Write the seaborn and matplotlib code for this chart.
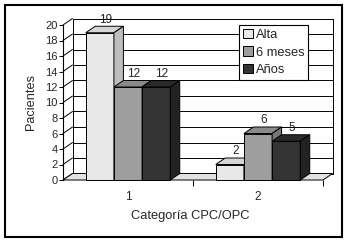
import matplotlib
matplotlib.use("Agg")
import matplotlib.pyplot as plt
import seaborn as sns
import pandas as pd
import numpy as np
from matplotlib.patches import Polygon, Rectangle

# ---- data ----
categories = ["1", "2"]
series = ["Alta", "6 meses", "Años"]
alta = [19, 2]
seis_meses = [12, 6]
anos = [12, 5]
yticks = list(range(0, 21, 2))

front_colors = {"Alta": "#e8e8e8", "6 meses": "#9e9e9e", "Años": "#333333"}
top_colors = {"Alta": "#d6d6d6", "6 meses": "#8a8a8a", "Años": "#2a2a2a"}
side_colors = {"Alta": "#bdbdbd", "6 meses": "#777777", "Años": "#222222"}

df = pd.DataFrame({
    "cat": categories * 3,
    "serie": [s for s in series for _ in categories],
    "val": alta + seis_meses + anos,
})

sns.set_style("white")
plt.rcParams["font.family"] = ["Liberation Sans", "DejaVu Sans"]

W, H = 347, 242
fig = plt.figure(figsize=(W / 100, H / 100), dpi=100)
ax = fig.add_axes([63 / W, 62 / H, 260 / W, 155 / H])
ax.set_facecolor("none")

sns.barplot(data=df, x="cat", y="val", hue="serie", hue_order=series,
            palette=front_colors, width=0.65, edgecolor="black",
            linewidth=0.7, saturation=1, ax=ax, zorder=5)

ax.set_xlim(-0.5, 1.5)
ax.set_ylim(0, 20)

DX, DY = 9.5, 6.5  # depth offset in pixels
to_disp = ax.transData.transform
to_data = ax.transData.inverted().transform

def back(pts):
    d = to_disp(np.asarray(pts, float))
    return to_data(d + np.array([DX, DY]))

# back wall grid lines and left diagonals
x0, x1 = ax.get_xlim()
for yv in yticks:
    (bx0, by0), (bx1, by1) = back([(x0, yv), (x1, yv)])
    ax.plot([bx0, bx1], [by0, by1], color="black", lw=0.7, zorder=1, clip_on=False)
    ax.plot([x0, bx0], [yv, by0], color="black", lw=0.7, zorder=1, clip_on=False)
(bl0, blb), (bl1, blt) = back([(x0, 0), (x0, 20)])
ax.plot([bl0, bl1], [blb, blt], color="black", lw=0.7, zorder=1, clip_on=False)
(br0, brb), (br1, brt) = back([(x1, 0), (x1, 20)])
ax.plot([br0, br1], [brb, brt], color="black", lw=0.7, zorder=1, clip_on=False)

# floor
fb = back([(x1, 0), (x0, 0)])
floor = Polygon([(x0, 0), (x1, 0), tuple(fb[0]), tuple(fb[1])], closed=True,
                facecolor="#e2e2e2", edgecolor="black", lw=0.7, zorder=2, clip_on=False)
ax.add_patch(floor)

# 3D faces for bars
bars = [p for p in ax.patches if isinstance(p, Rectangle) and p.get_height() > 0]
hue_of = {}
for cont, s in zip(ax.containers, series):
    for p in cont:
        hue_of[id(p)] = s
bars.sort(key=lambda p: p.get_x())
z = 5
for p in bars:
    s = hue_of.get(id(p), "Alta")
    bx, bw, bh = p.get_x(), p.get_width(), p.get_height()
    p.set_zorder(z)
    p.set_clip_on(False)
    tb = back([(bx + bw, bh), (bx, bh)])
    top = Polygon([(bx, bh), (bx + bw, bh), tuple(tb[0]), tuple(tb[1])], closed=True,
                  facecolor=top_colors[s], edgecolor="black", lw=0.7, zorder=z + 0.1, clip_on=False)
    sb = back([(bx + bw, bh), (bx + bw, 0)])
    side = Polygon([(bx + bw, 0), (bx + bw, bh), tuple(sb[0]), tuple(sb[1])], closed=True,
                   facecolor=side_colors[s], edgecolor="black", lw=0.7, zorder=z + 0.1, clip_on=False)
    ax.add_patch(top)
    ax.add_patch(side)
    ax.annotate(f"{int(round(bh))}", xy=(bx + bw / 2, bh),
                xytext=(DX * 0.45, DY * 0.72 + 0.5), textcoords="offset points",
                ha="center", va="bottom", fontsize=8.5, zorder=z + 0.2)
    z += 1

# axes styling
for sp in ["top", "right", "bottom"]:
    ax.spines[sp].set_visible(False)
ax.spines["left"].set_color("black")
ax.spines["left"].set_linewidth(0.8)
ax.spines["left"].set_zorder(20)
ax.set_yticks(yticks)
ax.tick_params(axis="y", direction="out", length=3, width=0.7, color="black",
               labelsize=8, pad=1, left=True)
ax.set_xticks([0.5, 1.5])
ax.set_xticklabels(["", ""])
ax.set_xticks([0, 1], minor=True)
ax.set_xticklabels(categories, minor=True)
ax.tick_params(axis="x", which="major", direction="out", length=4, width=0.7,
               color="black", bottom=True)
ax.tick_params(axis="x", which="minor", length=0, labelsize=8.5, pad=8)

ax.set_ylabel("Pacientes", fontsize=9.2)
ax.yaxis.set_label_coords((37 - 63) / 260, 0.5)
ax.set_xlabel("Categoría CPC/OPC", fontsize=9.3)
ax.xaxis.set_label_coords((190 - 63) / 260, (180 - 210) / 155)

# legend
handles = [Rectangle((0, 0), 1, 1, facecolor=front_colors[s], edgecolor="black", lw=0.7)
           for s in series]
old = ax.get_legend()
if old is not None:
    old.remove()
leg = fig.legend(handles, series, loc="upper right",
                 bbox_to_anchor=(308 / W, 1 - 25 / H), bbox_transform=fig.transFigure,
                 fontsize=9.3, frameon=True, fancybox=False, framealpha=1,
                 edgecolor="black", borderaxespad=0, handlelength=0.75,
                 handleheight=0.75, handletextpad=0.2, labelspacing=0.4,
                 borderpad=0.3)
leg.get_frame().set_linewidth(0.8)
leg.set_zorder(50)

# outer border
fig.patches.append(Rectangle((5 / W, 5 / H), 337 / W, 232 / H, transform=fig.transFigure,
                             fill=False, edgecolor="black", lw=1.5))

fig.savefig("out.png", dpi=100)
